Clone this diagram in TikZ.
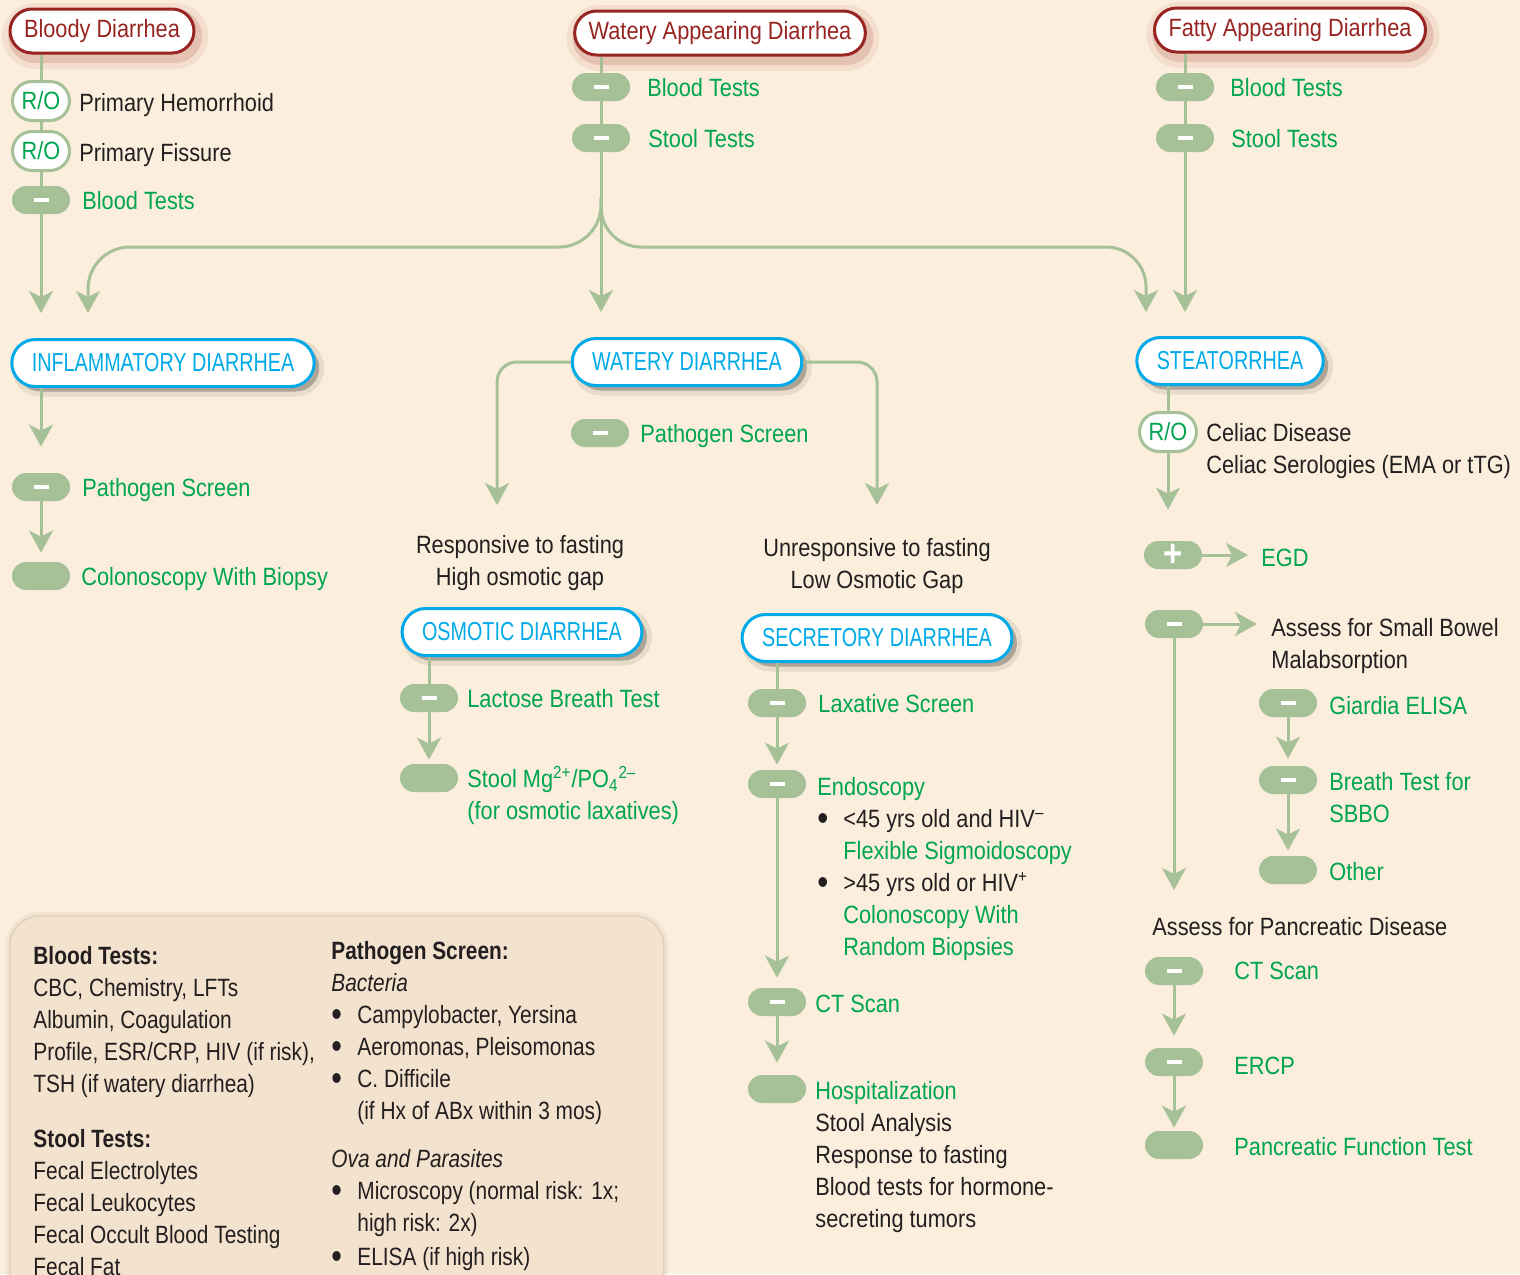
\documentclass[tikz,border=0pt]{standalone}
\usepackage{graphicx}
\usepackage{fontspec}
\setmainfont{Liberation Sans}[FakeStretch=0.87]
\newfontfamily\ttlfont{Liberation Sans}[FakeStretch=0.76]
\newfontfamily\keyfont{Liberation Sans}[FakeStretch=0.835]
\usetikzlibrary{arrows.meta}
\definecolor{bgcream}{RGB}{251,238,220}
\definecolor{keyfill}{RGB}{243,226,205}
\definecolor{keyline}{RGB}{225,208,188}
\definecolor{pillgreen}{RGB}{166,193,152}
\definecolor{txtgreen}{RGB}{0,165,80}
\definecolor{hdrred}{RGB}{152,37,34}
\definecolor{ttlblue}{RGB}{0,170,232}
\definecolor{ink}{RGB}{35,31,32}
\newcommand{\minusbar}{\textcolor{white}{\rule{7.5pt}{2pt}}}
\newcommand{\plusbar}{\textcolor{white}{\fontsize{19}{19}\selectfont\bfseries +}}
\newcommand{\bul}{\makebox[13pt][l]{\raisebox{-1.6pt}{\scalebox{1.45}{\textbullet}}}}
\newcommand{\bulind}{\hspace*{13pt}}

\begin{document}
\begin{tikzpicture}[x=0.5pt, y=-0.5pt, font=\fontsize{12.5}{16}\selectfont,
    redglow/.style={preaction={draw=hdrred, line width=11pt, opacity=0.07,
        transform canvas={xshift=1.5pt, yshift=-2.5pt}},
      preaction={draw=hdrred, line width=5pt, opacity=0.16,
        transform canvas={xshift=1.5pt, yshift=-2.5pt}}},
    grayglow/.style={preaction={fill=black, opacity=0.25,
        transform canvas={xshift=2.5pt, yshift=-2.5pt}},
      preaction={draw=black, line width=5pt, opacity=0.08,
        transform canvas={xshift=2.5pt, yshift=-2.5pt}}},
    keyglow/.style={preaction={draw=black, line width=4pt, opacity=0.04}},
    hdr/.style={rectangle, rounded corners=11pt, draw=hdrred, line width=1.5pt,
      fill=white, text=hdrred, minimum height=22pt, inner xsep=7pt, redglow},
    ttl/.style={rectangle, rounded corners=11.75pt, draw=ttlblue, line width=1.5pt,
      fill=white, text=ttlblue, minimum height=23.5pt, inner xsep=10pt,
      font=\ttlfont\fontsize{13}{16}\selectfont, grayglow},
    res/.style={rectangle, rounded corners=7pt, fill=pillgreen, minimum width=29pt,
      minimum height=14pt, inner sep=0pt},
    ro/.style={rectangle, rounded corners=9.75pt, draw=pillgreen, line width=1.5pt,
      fill=white, text=txtgreen, minimum width=28.5pt, minimum height=19.5pt,
      inner sep=0pt},
    lbl/.style={anchor=north west, inner sep=0pt, align=left, text=ink},
    grn/.style={lbl, text=txtgreen},
    keytxt/.style={lbl, font=\keyfont\fontsize{12.5}{16}\selectfont},
    note/.style={anchor=north, inner sep=0pt, align=center, text=ink},
    key/.style={rectangle, rounded corners=15pt, fill=keyfill, draw=keyline,
      line width=0.8pt, minimum width=327pt, minimum height=200pt},
    link/.style={draw=pillgreen, line width=1.5pt},
    arr/.style={link, -{Stealth[length=11pt, width=12pt, inset=3pt]},
      shorten >=3.5pt}]
  \fill[bgcream] (0,0) rectangle (1520,1274);
  \useasboundingbox (0,0) rectangle (1520,1274);

  \node[hdr] (bloody) at (102,31) {Bloody Diarrhea};
  \node[hdr] (wat) at (720,33) {Watery Appearing Diarrhea};
  \node[hdr] (fat) at (1290,30) {Fatty Appearing Diarrhea};

  \node[ttl] (inflam) at (163,363) {INFLAMMATORY DIARRHEA};
  \node[ttl] (watdia) at (687,362) {WATERY DIARRHEA};
  \node[ttl] (osm) at (522,632) {OSMOTIC DIARRHEA};
  \node[ttl] (sec) at (877,638) {SECRETORY DIARRHEA};
  \node[ttl] (stea) at (1230,361) {STEATORRHEA};

  \node[ro] (ro1) at (41,101) {R/O}; \node[ro] (ro2) at (41,151) {R/O};
  \node[ro] (ro3) at (1168,432) {R/O};

  \begin{scope}[every node/.style={res}]
    \node (bt1) at (41,200) {\minusbar}; \node (ps1) at (41,487) {\minusbar};
    \node (colon) at (41,576) {};
    \node (bt2) at (601,87) {\minusbar}; \node (st2) at (601,138) {\minusbar};
    \node (ps2) at (600,433) {\minusbar};
    \node (lac) at (429,698) {\minusbar}; \node (mg) at (429,778) {};
    \node (lax) at (777,703) {\minusbar}; \node (endo) at (777,784) {\minusbar};
    \node (ct1) at (777,1002) {\minusbar}; \node (hosp) at (777,1089) {};
    \node (bt3) at (1185,87) {\minusbar}; \node (st3) at (1185,138) {\minusbar};
    \node (egdp) at (1173,555) {\plusbar}; \node (sb) at (1174,624) {\minusbar};
    \node (gia) at (1288,703) {\minusbar}; \node (bre) at (1288,780) {\minusbar};
    \node (oth) at (1288,870) {};
    \node (ctp) at (1174,971) {\minusbar}; \node (ercp) at (1174,1062) {\minusbar};
    \node (pft) at (1174,1145) {};
  \end{scope}

  \node[lbl] (hemt) at (79,93) {Primary Hemorrhoid};
  \node[lbl] (fist) at (79,143) {Primary Fissure};
  \node[grn] (bt1t) at (82,191) {Blood Tests};
  \node[grn] (ps1t) at (82,478) {Pathogen Screen};
  \node[grn] (colont) at (81,567) {Colonoscopy With Biopsy};
  \node[grn] (bt2t) at (647,78) {Blood Tests};
  \node[grn] (st2t) at (648,129) {Stool Tests};
  \node[grn] (ps2t) at (640,424) {Pathogen Screen};
  \node[note] (resp) at (520,535) {Responsive to fasting\\High osmotic gap};
  \node[note] (unresp) at (877,538) {Unresponsive to fasting\\Low Osmotic Gap};
  \node[grn] (lact) at (467,689) {Lactose Breath Test};
  \node[grn] (mgt) at (467,766) {Stool Mg\textsuperscript{2+}/PO\textsubscript{4}\textsuperscript{2--}\\(for osmotic laxatives)};
  \node[grn] (laxt) at (818,694) {Laxative Screen};
  \node[lbl] (endot) at (817,777) {\textcolor{txtgreen}{Endoscopy}\\
    \bul<45 yrs old and HIV\textsuperscript{--}\\
    \bulind\textcolor{txtgreen}{Flexible Sigmoidoscopy}\\
    \bul>45 yrs old or HIV\textsuperscript{+}\\
    \bulind\textcolor{txtgreen}{Colonoscopy With}\\
    \bulind\textcolor{txtgreen}{Random Biopsies}};
  \node[grn] (ct1t) at (815,995) {CT Scan};
  \node[lbl] (hospt) at (815,1081) {\textcolor{txtgreen}{Hospitalization}\\Stool Analysis\\
    Response to fasting\\Blood tests for hormone-\\secreting tumors};
  \node[grn] (bt3t) at (1230,78) {Blood Tests};
  \node[grn] (st3t) at (1231,129) {Stool Tests};
  \node[lbl] (celt) at (1206,423) {Celiac Disease\\Celiac Serologies (EMA or tTG)};
  \node[grn] (egdt) at (1261,549) {EGD};
  \node[lbl] (sbt) at (1271,618) {Assess for Small Bowel\\Malabsorption};
  \node[grn] (giat) at (1329,696) {Giardia ELISA};
  \node[grn] (bret) at (1329,772) {Breath Test for\\SBBO};
  \node[grn] (otht) at (1329,862) {Other};
  \node[lbl] (pan) at (1152,917) {Assess for Pancreatic Disease};
  \node[grn] (ctpt) at (1234,962) {CT Scan};
  \node[grn] (ercpt) at (1234,1057) {ERCP};
  \node[grn] (pftt) at (1234,1137) {Pancreatic Function Test};

  \node[key, anchor=north west, keyglow] (legend) at (9,915) {};
  \node[keytxt] (bloodkey) at (33,946) {\textbf{Blood Tests:}\\CBC, Chemistry, LFTs\\
    Albumin, Coagulation\\Profile, ESR/CRP, HIV (if risk),\\TSH (if watery diarrhea)\\[11.5pt]
    \textbf{Stool Tests:}\\Fecal Electrolytes\\Fecal Leukocytes\\
    Fecal Occult Blood Testing\\Fecal Fat};
  \node[keytxt] (pathkey) at (331,941) {\textbf{Pathogen Screen:}\\\textit{Bacteria}\\
    \bul Campylobacter, Yersina\\\bul Aeromonas, Pleisomonas\\\bul C. Difficile\\
    \bulind(if Hx of ABx within 3 mos)\\[8pt]\textit{Ova and Parasites}\\
    \bul Microscopy (normal risk: 1x;\\\bulind high risk: 2x)\\[1pt]
    \bul ELISA (if high risk)};

  \coordinate (split) at (601,197);
  \coordinate (osmin) at (497,505);
  \coordinate (secin) at (877,505);

  \begin{scope}[link]
    \draw (bloody.south -| ro1) -- (ro1); \draw (ro1) -- (ro2); \draw (ro2) -- (bt1);
    \draw (wat.south -| bt2) -- (bt2); \draw (bt2) -- (st2);
    \draw (fat.south -| bt3) -- (bt3); \draw (bt3) -- (st3);
    \draw (osm.south -| lac) -- (lac); \draw (sec.south -| lax) -- (lax);
    \draw (stea.south -| ro3) -- (ro3);
  \end{scope}

  \begin{scope}[arr]
    \draw[shorten >=12.5pt] (bt1) -- (bt1 |- inflam.north);
    \draw[shorten >=12.5pt] (st2) -- (st2 |- watdia.north);
    \draw[shorten >=12.5pt, rounded corners=21pt] (split) |- (88,247)
      -- (88,0 |- inflam.north);
    \draw[shorten >=12pt, rounded corners=20pt] (split) |- (1146,247)
      -- (1146,0 |- stea.north);
    \draw[shorten >=12pt] (st3) -- (st3 |- stea.north);
    \draw[shorten >=13pt] (inflam.south -| ps1) -- (ps1);
    \draw[shorten >=4.5pt] (ps1) -- (colon);
    \draw[shorten >=0pt, rounded corners=10pt] (watdia.west) -| (osmin);
    \draw[shorten >=0pt, rounded corners=10pt] (watdia.east) -| (secin);
    \draw[shorten >=2pt] (lac) -- (mg);
    \draw[shorten >=2.5pt] (lax) -- (endo);
    \draw[shorten >=5pt] (endo) -- (ct1);
    \draw[shorten >=6pt] (ct1) -- (hosp);
    \draw[shorten >=15.5pt] (ro3) -- (ro3 |- egdp.north);
    \draw[shorten >=6.5pt] (egdp) -- (egdp -| egdt.west);
    \draw[shorten >=7pt] (sb) -- (sb -| sbt.west);
    \draw[shorten >=13.5pt] (sb) -- (sb |- pan.north);
    \draw (gia) -- (bre); \draw[shorten >=2.5pt] (bre) -- (oth);
    \draw[shorten >=6pt] (ctp) -- (ercp); \draw[shorten >=1.5pt] (ercp) -- (pft);
  \end{scope}
\end{tikzpicture}
\end{document}
